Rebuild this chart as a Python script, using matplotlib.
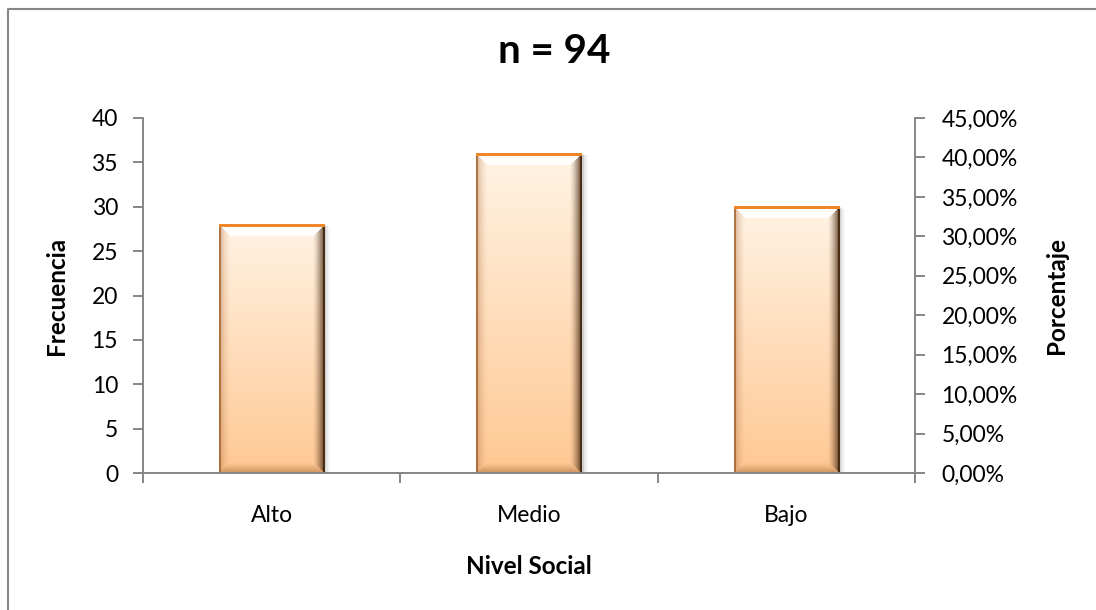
import numpy as np
import matplotlib
matplotlib.use('Agg')
import matplotlib.pyplot as plt
from matplotlib.lines import Line2D
from matplotlib.patches import Rectangle
from matplotlib.ticker import FixedLocator, FuncFormatter
import matplotlib.transforms as mtransforms

# ---------------- data ----------------
categories = ['Alto', 'Medio', 'Bajo']
frecuencia = [28, 36, 30]
freq_ticks = [0, 5, 10, 15, 20, 25, 30, 35, 40]
pct_ticks = [0, 5, 10, 15, 20, 25, 30, 35, 40, 45]
title_text = 'n = 94'
xlabel_text = 'Nivel Social'
ylabel_left = 'Frecuencia'
ylabel_right = 'Porcentaje'

plt.rcParams['font.family'] = ['Lato', 'DejaVu Sans']

GRAY = '#868686'
W, H = 1096, 610
TICK_FS = 16.5
LAB_FS = 17.5
fig = plt.figure(figsize=(W / 100, H / 100), dpi=100)
fig.patch.set_facecolor('white')

ax = fig.add_axes([143 / W, 137 / H, 772 / W, 355 / H])
ax.set_xlim(-0.5, len(categories) - 0.5)
ax.set_ylim(freq_ticks[0], freq_ticks[-1])
ax.set_facecolor('none')

x = np.arange(len(categories))
bar_w = 0.41
bars = ax.bar(x, frecuencia, width=bar_w, color='none', edgecolor='none', zorder=1)


def hex2rgb(h):
    h = h.lstrip('#')
    return np.array([int(h[i:i + 2], 16) / 255 for i in (0, 2, 4)])


top_col = hex2rgb('#FFF3E4')
bot_col = hex2rgb('#FFC893')
right_dark = hex2rgb('#4E3018')
left_dark = hex2rgb('#B87C50')
bottom_dark = hex2rgb('#A56A3A')
orange = hex2rgb('#F0862A')


def mix(a, b, f):
    return a * (1 - f[..., None]) + b * f[..., None]


# shadows
for b in bars:
    x0, y0 = b.get_x(), b.get_y()
    w, h = b.get_width(), b.get_height()
    for off, al in [(2, 0.10), (4, 0.06), (6, 0.035)]:
        tr = mtransforms.offset_copy(ax.transData, fig=fig, x=off, y=-off * 0.3, units='dots')
        ax.add_patch(Rectangle((x0, y0), w, h, transform=tr, facecolor='black',
                               edgecolor='none', alpha=al, zorder=0.5))

# gradient bevel bars
for b in bars:
    x0, y0 = b.get_x(), b.get_y()
    w, h = b.get_width(), b.get_height()
    p0 = ax.transData.transform((x0, y0))
    p1 = ax.transData.transform((x0 + w, y0 + h))
    nx = int(round(p1[0] - p0[0]))
    ny = int(round(p1[1] - p0[1]))
    ii, jj = np.mgrid[0:ny, 0:nx].astype(float)
    t = ii / max(ny - 1, 1)
    base = mix(np.broadcast_to(top_col, (ny, nx, 3)), np.broadcast_to(bot_col, (ny, nx, 3)), t)
    img = base.copy()
    bev = 12.0
    dt = ii
    db = (ny - 1 - ii) * 1.15
    dl = jj
    dr = nx - 1 - jj
    d = np.stack([dt, db, dl, dr])
    face = np.argmin(d, axis=0)
    dmin = np.min(d, axis=0)
    inb = dmin < bev
    white = np.ones(3)
    # top face
    m = inb & (face == 0)
    f = np.zeros((ny, nx)); f[m] = 0.95
    img = np.where(m[..., None], mix(base, white, f), img)
    # bottom face
    m = inb & (face == 1)
    f = np.zeros((ny, nx)); f[m] = 0.55 * (1 - db[m] / bev) ** 1.2
    img = np.where(m[..., None], mix(base, bottom_dark, f), img)
    # left face
    m = inb & (face == 2)
    f = np.zeros((ny, nx)); f[m] = 0.55 * (1 - dl[m] / bev) ** 1.8
    img = np.where(m[..., None], mix(base, left_dark, f), img)
    # right face
    m = inb & (face == 3)
    f = np.zeros((ny, nx)); f[m] = 0.9 * (1 - dr[m] / bev) ** 1.5
    img = np.where(m[..., None], mix(base, right_dark, f), img)
    # edges
    img[:, 0:2] = mix(img[:, 0:2], hex2rgb('#A0602A'), np.full((ny, 2), 0.75))
    img[:, -2:] = hex2rgb('#4A2C12')
    img[0:3, :] = orange
    ax.imshow(img, extent=(x0, x0 + w, y0, y0 + h), origin='upper', aspect='auto',
              interpolation='nearest', zorder=1)

ax.set_xlim(-0.5, len(categories) - 0.5)
ax.set_ylim(freq_ticks[0], freq_ticks[-1])

# axes styling
for s in ['top', 'right']:
    ax.spines[s].set_visible(False)
for s in ['left', 'bottom']:
    ax.spines[s].set_color(GRAY)
    ax.spines[s].set_linewidth(1.4)

ax.yaxis.set_major_locator(FixedLocator(freq_ticks))
ax.tick_params(axis='y', which='major', direction='out', length=7, width=1.4,
               color=GRAY, labelsize=TICK_FS, pad=11, labelcolor='black')

ax.xaxis.set_major_locator(FixedLocator(np.arange(-0.5, len(categories), 1.0)))
ax.xaxis.set_major_formatter(FuncFormatter(lambda v, p: ''))
ax.xaxis.set_minor_locator(FixedLocator(x))
ax.xaxis.set_minor_formatter(FuncFormatter(lambda v, p: categories[int(round(v))]))
ax.tick_params(axis='x', which='major', direction='out', length=7, width=1.4, color=GRAY)
ax.tick_params(axis='x', which='minor', length=0, labelsize=TICK_FS, pad=23, labelcolor='black')

ax2 = ax.twinx()
ax2.set_ylim(pct_ticks[0], pct_ticks[-1])
for s in ['top', 'left', 'bottom']:
    ax2.spines[s].set_visible(False)
ax2.spines['right'].set_color(GRAY)
ax2.spines['right'].set_linewidth(1.4)
ax2.yaxis.set_major_locator(FixedLocator(pct_ticks))
ax2.yaxis.set_major_formatter(FuncFormatter(lambda v, p: f'{v:.2f}%'.replace('.', ',')))
ax2.tick_params(axis='y', which='major', direction='out', length=7, width=1.4,
                color=GRAY, labelsize=TICK_FS, pad=12, labelcolor='black')

# labels
ax.set_xlabel(xlabel_text, fontsize=LAB_FS, fontweight='bold', va='center')
ax.xaxis.set_label_coords((529 - 143) / 772, (473 - 567) / 355)
ax.set_ylabel(ylabel_left, fontsize=LAB_FS, fontweight='bold', va='center')
ax.yaxis.set_label_coords((57 - 143) / 772, 0.5)
ax2.set_ylabel(ylabel_right, fontsize=LAB_FS, fontweight='bold', va='center', rotation=90)
ax2.yaxis.set_label_coords((1056 - 143) / 772, 0.5)

ax.set_title(title_text, fontsize=29, fontweight='bold', x=(554 - 143) / 772,
             y=(473 - 60) / 355, va='center')

# outer chart border (left and top visible)
fig.add_artist(Line2D([7.5 / W, 7.5 / W, 1.01], [-0.01, 1 - 8.5 / H, 1 - 8.5 / H],
                      transform=fig.transFigure, color=GRAY, lw=1.5))

fig.savefig('out.png', dpi=100, facecolor='white')
